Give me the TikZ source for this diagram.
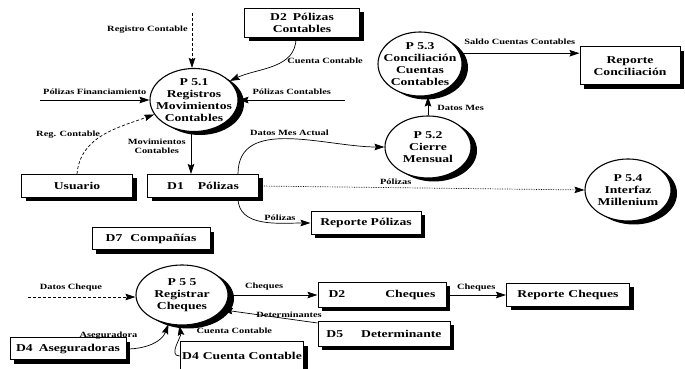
\documentclass[tikz,border=0pt]{standalone}
\usepackage{fontspec}
\setmainfont{Liberation Serif}[FakeStretch=1.3]
\usetikzlibrary{arrows.meta, positioning, shapes.geometric, shadows}

\begin{document}
\begin{tikzpicture}[x=1pt, y=1pt,
    proc/.style={ellipse, draw, line width=1.1pt, fill=white, inner xsep=-20pt, inner ysep=-12pt, align=center, font=\fontsize{10.5}{12}\selectfont\bfseries, drop shadow={shadow xshift=6pt, shadow yshift=-3.5pt, fill=black, opacity=1}},
    store/.style={rectangle, draw, line width=1pt, fill=white, inner sep=2pt, align=center, font=\fontsize{10.5}{12}\selectfont\bfseries, drop shadow={shadow xshift=4pt, shadow yshift=-4pt, fill=black, opacity=1}},
    lbl/.style={font=\fontsize{8}{9}\selectfont\bfseries, inner sep=1pt},
    flow/.style={-{Stealth[length=10pt, width=6.5pt, inset=1.5pt]}, line width=0.7pt}
]
    \useasboundingbox (0,0) rectangle (685,369);

    % Processes
    \node[proc, minimum width=88pt, minimum height=63pt] (p51) at (194, 269) {P 5.1\\Registros\\Movimientos\\Contables};
    \node[proc, minimum width=84pt, minimum height=64pt] (p53) at (420, 305) {P 5.3\\Conciliación\\Cuentas\\Contables};
    \node[proc, minimum width=86pt, minimum height=62pt] (p52) at (428, 222) {P 5.2\\Cierre\\Mensual};
    \node[proc, minimum width=86pt, minimum height=62pt] (p54) at (628, 179) {P 5.4\\Interfaz\\Millenium};
    \node[proc, minimum width=92pt, minimum height=60pt] (p55) at (182, 74) {P 5 5\\Registrar\\Cheques};

    % Stores and entities
    \node[store, minimum width=115pt, minimum height=29pt] (d2pol) at (302, 346) {D2\hspace{6pt}Pólizas\\Contables};
    \node[store, minimum width=100pt, minimum height=38pt] (repcon) at (630, 303) {Reporte\\Conciliación};
    \node[store, minimum width=111pt, minimum height=23pt] (usuario) at (77, 183) {Usuario};
    \node[store, minimum width=111pt, minimum height=23pt] (d1) at (203, 183) {D1\hspace{14pt}Pólizas};
    \node[store, minimum width=110pt, minimum height=23pt] (reppol) at (366, 146) {Reporte Pólizas};
    \node[store, minimum width=118pt, minimum height=22pt] (d7) at (151, 130) {D7\hspace{8pt}Compañías};
    \node[store, minimum width=128pt, minimum height=25pt] (d2chq) at (382, 74) {D2\hspace{40pt}Cheques};
    \node[store, minimum width=123pt, minimum height=23pt] (repchq) at (568, 74) {Reporte\hspace{4pt}Cheques};
    \node[store, minimum width=132pt, minimum height=25pt] (d5) at (384, 35) {D5\hspace{18pt}Determinante};
    \node[store, minimum width=117pt, minimum height=28pt] (d4cc) at (242, 13) {D4\hspace{4pt}Cuenta Contable};
    \node[store, minimum width=116pt, minimum height=22pt] (d4ase) at (68, 20) {D4\hspace{6pt}Aseguradoras};

    % Free ends
    \coordinate (regsrc) at (192, 356);
    \coordinate (pfsrc) at (40, 269);
    \coordinate (pcsrc) at (345, 269);
    \coordinate (dcsrc) at (28, 72);

    % Flows round P 5.1
    \draw[flow, densely dashed] (regsrc) -- (regsrc |- p51.north) node[lbl, pos=0.3, left=3pt] {Registro Contable};
    \draw[flow] (pfsrc) -- (p51.west) node[lbl, midway, above=4pt] {Pólizas Financiamiento};
    \draw[flow, densely dashed] (usuario.north) to[out=85, in=200] node[lbl, pos=0.5, left=2pt] {Reg. Contable} (p51.200);
    \draw[flow] ([xshift=-6pt]d2pol.south) to[out=-90, in=25] node[lbl, pos=0.35, right=2pt] {Cuenta Contable} (p51.28);
    \draw[flow] (pcsrc) -- (p51.east) node[lbl, midway, above=4pt] {Pólizas Contables};
    \draw[flow] ([xshift=-3pt]p51.south) -- ([xshift=-3pt]p51.south |- d1.north) node[lbl, pos=0.35, left=4pt, align=center] {Movimientos\\Contables};

    % Flows from D1
    \draw[flow] ([xshift=-21pt]d1.north east) to[out=90, in=180] node[lbl, pos=0.5, above=2pt] {Datos Mes Actual} (p52.west);
    \draw[flow, densely dotted] (d1.east) -- (p54.west) node[lbl, pos=0.42, above=2pt] {Pólizas};
    \draw[flow] ([xshift=-21pt]d1.south east) to[out=-90, in=180] node[lbl, pos=0.5, above right=0pt] {Pólizas} (reppol.west);

    % Month closing
    \draw[flow] (p52.north) -- (p52.north |- p53.south) node[lbl, pos=0.4, right=8pt] {Datos Mes};
    \draw[flow] (p53.15) -- (p53.15 -| repcon.west) node[lbl, midway, above=7pt] {Saldo Cuentas Contables};

    % Cheques
    \draw[flow, densely dashed] (dcsrc) -- (dcsrc -| p55.west) node[lbl, pos=0.4, above=4pt] {Datos Cheque};
    \draw[flow] (p55.east) -- (d2chq.west |- p55.east) node[lbl, pos=0.4, above=3pt] {Cheques};
    \draw[flow] (d2chq.east) -- (repchq.west) node[lbl, midway, above=2pt] {Cheques};
    \draw[flow] ([yshift=-2pt]d5.north west) -- (p55.-20) node[lbl, pos=0.3, above=0pt] {Determinantes};
    \draw[flow] (d4ase.east) to[out=0, in=-110] node[lbl, pos=0.3, above left=6pt and 4pt] {Aseguradora} (p55.245);
    \draw[flow] (d4cc.west) to[out=180, in=-80] node[lbl, pos=0.85, right=16pt] {Cuenta Contable} (p55.265);
\end{tikzpicture}
\end{document}
